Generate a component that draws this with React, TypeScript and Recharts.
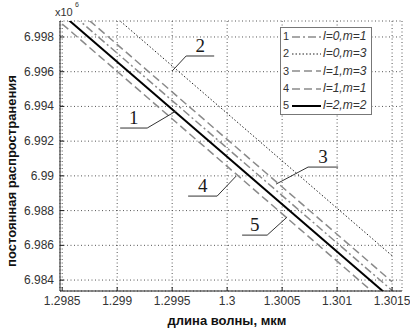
import {
  CartesianGrid,
  Legend,
  Line,
  LineChart,
  ReferenceDot,
  ReferenceLine,
  XAxis,
  YAxis,
} from "recharts";

// wavelength, um
const wavelength = [1.2985, 1.3015];

// propagation constant, x10^6
const modeL0M1 = [6.9998, 6.9834];
const modeL0M3 = [7.0018, 6.9854];
const modeL1M3 = [7.0003, 6.9839];
const modeL1M1 = [6.99875, 6.98235];
const modeL2M2 = [6.9993, 6.9829];

const xTicks = [1.2985, 1.299, 1.2995, 1.3, 1.3005, 1.301, 1.3015];
const xTickLabels = ["1.2985", "1.299", "1.2995", "1.3", "1.3005", "1.301", "1.3015"];
const yTicks = [6.984, 6.986, 6.988, 6.99, 6.992, 6.994, 6.996, 6.998];
const yTickLabels = ["6.984", "6.986", "6.988", "6.99", "6.992", "6.994", "6.996", "6.998"];

const curveNames = ["1", "2", "3", "4", "5"];
const curveLabels = ["l=0,m=1", "l=0,m=3", "l=1,m=3", "l=1,m=1", "l=2,m=2"];

// numbered callouts: shelf under the number and the leader tip, in data units
const calloutShelfX1 = [1.299027, 1.299627, 1.300736, 1.299645, 1.300136];
const calloutShelfX2 = [1.299273, 1.299882, 1.301009, 1.299909, 1.300364];
const calloutShelfY = [6.992755, 6.996905, 6.990507, 6.988836, 6.986588];
const calloutTipX = [1.299536, 1.2995, 1.300445, 1.300082, 1.300545];
const calloutTipY = [6.993735, 6.99604, 6.989527, 6.989988, 6.987625];
const calloutFromLeft = [false, true, true, false, false];

const series = [modeL0M1, modeL0M3, modeL1M3, modeL1M1, modeL2M2];
const seriesStyle = [
  { stroke: "#8a8a8a", width: 1.5, dash: "8 3 2 3" },
  { stroke: "#222", width: 1, dash: "1.5 2" },
  { stroke: "#8a8a8a", width: 1.5, dash: "8 4" },
  { stroke: "#8a8a8a", width: 1.5, dash: "8 4" },
  { stroke: "#000", width: 2, dash: undefined },
];

const data = wavelength.map((w, i) => {
  const row: Record<string, number> = { w };
  series.forEach((s, k) => (row["s" + k] = s[i]));
  return row;
});

const font = "'Liberation Sans', Arial, sans-serif";

function LegendBox() {
  return (
    <div
      style={{
        width: 92,
        height: 88,
        border: "1px solid #777",
        background: "#fff",
        boxSizing: "border-box",
        fontFamily: font,
        fontSize: 12,
        color: "#333",
      }}
    >
      {curveNames.map((n, i) => (
        <div
          key={n}
          style={{ display: "flex", alignItems: "center", height: 17.3, lineHeight: "17px" }}
        >
          <span style={{ width: 9, paddingLeft: 2, fontSize: 11 }}>{n}</span>
          <svg width={29} height={8} style={{ display: "block" }}>
            <line
              x1={0}
              y1={4}
              x2={29}
              y2={4}
              stroke={seriesStyle[i].stroke}
              strokeWidth={seriesStyle[i].width}
              strokeDasharray={seriesStyle[i].dash}
            />
          </svg>
          <span style={{ fontStyle: "italic", paddingLeft: 2 }}>{curveLabels[i]}</span>
        </div>
      ))}
    </div>
  );
}

function XTick(props: any) {
  const { x, y, payload } = props;
  return (
    <text x={x} y={y + 9} textAnchor="middle" fill="#333" fontSize={12} fontFamily={font}>
      {xTickLabels[xTicks.indexOf(payload.value)]}
    </text>
  );
}

function YTick(props: any) {
  const { x, y, payload } = props;
  return (
    <text x={x} y={y + 4} textAnchor="end" fill="#333" fontSize={12} fontFamily={font}>
      {yTickLabels[yTicks.indexOf(payload.value)]}
    </text>
  );
}

export default function App() {
  return (
    <div style={{ position: "absolute", left: 0, top: 0, width: 410, height: 329, background: "#fff" }}>
      <LineChart
        width={410}
        height={329}
        data={data}
        margin={{ top: 21, right: 8, bottom: 8, left: 8 }}
      >
        <CartesianGrid stroke="#555" strokeDasharray="1 2.5" />
        <XAxis
          dataKey="w"
          type="number"
          domain={[1.29848, 1.30159]}
          allowDataOverflow
          ticks={xTicks}
          height={30}
          tickSize={-4}
          tickMargin={9}
          tick={<XTick />}
          stroke="#222"
          interval={0}
        />
        <XAxis
          xAxisId="top"
          orientation="top"
          type="number"
          domain={[1.29848, 1.30159]}
          ticks={xTicks}
          height={0}
          tickSize={-4}
          tick={false}
          stroke="#222"
        />
        <YAxis
          type="number"
          domain={[6.98337, 6.99892]}
          allowDataOverflow
          ticks={yTicks}
          width={52}
          tickSize={-4}
          tickMargin={10}
          tick={<YTick />}
          stroke="#222"
          interval={0}
        />
        <YAxis
          yAxisId="right"
          orientation="right"
          type="number"
          domain={[6.98337, 6.99892]}
          ticks={yTicks}
          width={0}
          tickSize={-4}
          tick={false}
          stroke="#222"
        />
        {series.map((_, k) => (
          <Line
            key={k}
            dataKey={"s" + k}
            stroke={seriesStyle[k].stroke}
            strokeWidth={seriesStyle[k].width}
            strokeDasharray={seriesStyle[k].dash}
            dot={false}
            activeDot={false}
            isAnimationActive={false}
          />
        ))}
        {curveNames.map((n, i) => {
          const sx = calloutFromLeft[i] ? calloutShelfX1[i] : calloutShelfX2[i];
          return [
            <ReferenceLine
              key={"shelf" + n}
              segment={[
                { x: calloutShelfX1[i], y: calloutShelfY[i] },
                { x: calloutShelfX2[i], y: calloutShelfY[i] },
              ]}
              stroke="#333"
              strokeWidth={1}
              ifOverflow="visible"
            />,
            <ReferenceLine
              key={"leader" + n}
              segment={[
                { x: sx, y: calloutShelfY[i] },
                { x: calloutTipX[i], y: calloutTipY[i] },
              ]}
              stroke="#333"
              strokeWidth={1}
              ifOverflow="visible"
            />,
            <ReferenceDot
              key={"num" + n}
              x={(calloutShelfX1[i] + calloutShelfX2[i]) / 2}
              y={calloutShelfY[i]}
              ifOverflow="visible"
              shape={(p: any) => (
                <text
                  x={p.cx}
                  y={p.cy - 4}
                  textAnchor="middle"
                  fontFamily="'Liberation Serif', 'Times New Roman', serif"
                  fontSize={19}
                  fill="#1a1a1a"
                >
                  {n}
                </text>
              )}
            />,
          ];
        })}
        <Legend
          layout="vertical"
          align="center"
          verticalAlign="middle"
          content={() => <LegendBox />}
          wrapperStyle={{ left: 280, top: 27, width: 92, height: 88 }}
        />
        <text x={55} y={16} fontFamily={font} fontSize={11} fill="#333">
          x10
        </text>
        <text x={75} y={7} fontFamily={font} fontSize={7} fill="#333">
          6
        </text>
        <text
          x={16}
          y={171}
          transform="rotate(-90 16 171)"
          textAnchor="middle"
          fontFamily={font}
          fontWeight="bold"
          fontSize={13}
          fill="#111"
        >
          постоянная распространения
        </text>
        <text
          x={227}
          y={325}
          textAnchor="middle"
          fontFamily={font}
          fontWeight="bold"
          fontSize={13}
          fill="#111"
        >
          длина волны, мкм
        </text>
      </LineChart>
    </div>
  );
}
